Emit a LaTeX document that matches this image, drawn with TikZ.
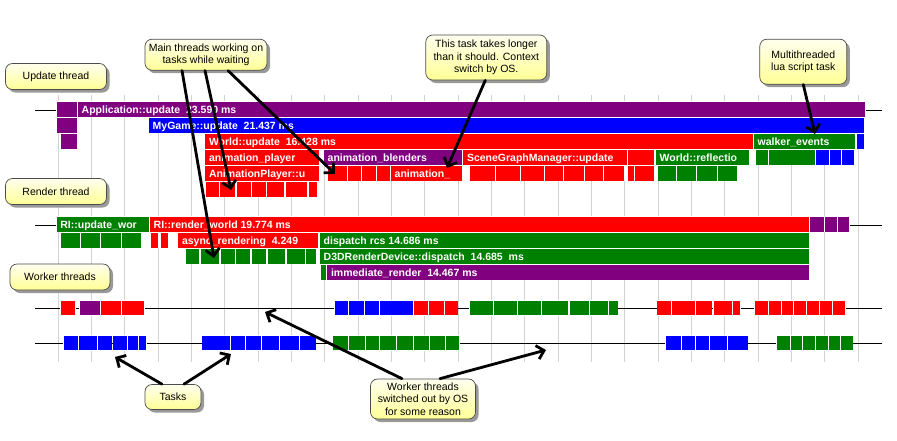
\documentclass[tikz,border=0pt]{standalone}
\usepackage{fontspec}
\setmainfont{Liberation Sans}
\usetikzlibrary{arrows.meta,shadows}
\definecolor{cpurple}{RGB}{128,0,128}
\definecolor{cblue}{RGB}{0,0,255}
\definecolor{cred}{RGB}{255,0,0}
\definecolor{cgreen}{RGB}{0,128,0}
\definecolor{cgrid}{RGB}{210,210,210}
\definecolor{cyltop}{RGB}{255,255,238}
\definecolor{cylbot}{RGB}{255,255,150}
\newcommand\blk[4]{\fill[white] (#2-0.7,#4-0.7) rectangle (#3+0.7,#4+15.4);\fill[#1] (#2,#4) rectangle (#3,#4+14.7);}
\newcommand\lbl[4]{\node[barlbl] (#1) at (#2+3.5,#3+11.2) {#4};}
\tikzset{
  barlbl/.style={anchor=base west, inner sep=0pt, text=white, font=\fontsize{10.5}{12}\selectfont\bfseries},
  callout/.style={draw=black!70, line width=0.7pt, rounded corners=7pt, top color=cyltop, bottom color=cylbot,
    align=center, inner sep=0pt, font=\fontsize{10.5}{12.7}\selectfont,
    drop shadow={shadow xshift=3pt, shadow yshift=-3pt, fill=black!40, opacity=1}},
  arr/.style={line width=2.8pt, line cap=round, -{Straight Barb[length=7pt,width=14pt]}},
  thread/.style={line width=0.9pt, black}
}
\begin{document}
\begin{tikzpicture}[x=1pt,y=-1pt]
\fill[white] (0,0) rectangle (897,440);
\useasboundingbox (0,0) rectangle (897,440);
% grid
\foreach \k in {0,...,24} \draw[cgrid, line width=1pt] ({58+33.333*\k},95) -- ({58+33.333*\k},362);
% thread lines
\draw[thread] (35,110) -- (882,110);
\draw[thread] (35,225) -- (882,225);
\draw[thread] (35,308.3) -- (882,308.3);
\draw[thread] (35,343.3) -- (882,343.3);
% ---------- Update thread ----------
\blk{cpurple}{56.7}{76.7}{102}\blk{cpurple}{78}{865}{102}
\blk{cpurple}{56.7}{76.7}{118}\blk{cblue}{149}{864}{118}
\blk{cpurple}{61}{76.7}{134}\blk{cred}{205.3}{753}{134}\blk{cgreen}{754}{855}{134}\blk{cblue}{857}{864}{134}
\blk{cred}{205.3}{319.3}{150}\blk{cpurple}{324}{461.7}{150}\blk{cred}{463.3}{627.3}{150}\blk{cred}{628.3}{654}{150}
\blk{cgreen}{656}{749}{150}\blk{cgreen}{756}{768.3}{150}\blk{cgreen}{769.3}{815}{150}
\blk{cblue}{816}{829}{150}\blk{cblue}{830}{841}{150}\blk{cblue}{842}{854}{150}
\blk{cred}{205.3}{319.3}{166}
\foreach \a/\b in {328/346.7,347.7/360.7,361.7/375.7,376.7/390,391/461.7,470/495,496/520,521/544,545/562.7,564/584,585/602.7,604/624,627.7/634,635/654}{\blk{cred}{\a}{\b}{166}}
\foreach \a/\b in {658.3/676,677.3/696,697.3/716.7,718.3/736.7}{\blk{cgreen}{\a}{\b}{166}}
\foreach \a/\b in {206/219.3,220.3/235.3,236.7/250.7,252/266,267.3/284.3,285.7/306.7,308.7/317.3}{\blk{cred}{\a}{\b}{182}}
\lbl{l1}{78}{102}{Application::update\ \ 23.590 ms}
\lbl{l2}{149}{118}{MyGame::update\ \ 21.437 ms}
\lbl{l3}{205.3}{134}{World::update\ \ 16.428 ms}
\lbl{l4}{754}{134}{walker\_events}
\lbl{l5}{205.3}{150}{animation\_player}
\lbl{l6}{324}{150}{animation\_blenders}
\lbl{l7}{463.3}{150}{SceneGraphManager::update}
\lbl{l8}{656}{150}{World::reflectio}
\lbl{l9}{205.3}{166}{AnimationPlayer::u}
\lbl{l10}{391}{166}{animation\_}
% ---------- Render thread ----------
\blk{cgreen}{56.7}{149}{217}\blk{cred}{150}{809}{217}
\foreach \a/\b in {810/824,825/837,838/849}{\blk{cpurple}{\a}{\b}{217}}
\foreach \a/\b in {61/80,81/100,101/120.7,122/141}{\blk{cgreen}{\a}{\b}{233}}
\blk{cred}{151}{158.3}{233}\blk{cred}{161}{167.7}{233}\blk{cred}{178.3}{318.3}{233}\blk{cgreen}{320}{809}{233}
\foreach \a/\b in {186/199.3,200.7/219.3,220.7/235,236/250,251.7/266,267.7/285,286.7/305,306/316}{\blk{cgreen}{\a}{\b}{249}}
\blk{cgreen}{320}{809}{249}
\blk{cgreen}{320.7}{326}{265}\blk{cpurple}{327.3}{809}{265}
\lbl{l11}{56.7}{217}{RI::update\_wor}
\lbl{l12}{150}{217}{RI::render\_world 19.774 ms}
\lbl{l13}{178.3}{233}{async\_rendering\ \ 4.249}
\lbl{l14}{320}{233}{dispatch rcs 14.686 ms}
\lbl{l15}{320}{249}{D3DRenderDevice::dispatch\ \ 14.685\ \ ms}
\lbl{l16}{327.3}{265}{immediate\_render\ \ 14.467 ms}
% ---------- Worker threads ----------
\blk{cred}{61}{75}{300.7}\blk{cpurple}{80}{100}{300.7}\blk{cred}{101}{121}{300.7}\blk{cred}{122}{144}{300.7}
\foreach \a/\b in {335/348.3,349.3/364,365/379,380/412.7}{\blk{cblue}{\a}{\b}{300.7}}
\foreach \a/\b in {414/427.7,429/444,445/457.7}{\blk{cred}{\a}{\b}{300.7}}
\foreach \a/\b in {470/492.7,494/517.3,518.3/540.7,542/568.3,570/589,590/607.7,609/617.7}{\blk{cgreen}{\a}{\b}{300.7}}
\foreach \a/\b in {657.3/670.7,672/695,696/711.7,714/731.7,733/740,755/767.7,769/780.7,782/792.7,794/805.7,807/819,820.3/831.7,833/845}{\blk{cred}{\a}{\b}{300.7}}
\foreach \a/\b in {64/78.3,79.3/96.7,97.7/111.7,113.3/127.3,128.3/137.7,139/146,202.3/230,231/245,246/261,262.3/279,280/299,300/315.7}{\blk{cblue}{\a}{\b}{335.7}}
\foreach \a/\b in {333.3/348.3,349.3/365,366/379,380/396,397.3/412.7,414/429,430/445,446/459}{\blk{cgreen}{\a}{\b}{335.7}}
\foreach \a/\b in {666/680.7,682/695,696/709,710/726.7,728/747.7}{\blk{cblue}{\a}{\b}{335.7}}
\foreach \a/\b in {777/790,791/801.7,803/815,816/827.7,829/840,841/852.7}{\blk{cgreen}{\a}{\b}{335.7}}
% ---------- callouts ----------
\node[callout, minimum width=101pt, minimum height=26pt] (upd) at (56,76.5) {Update thread};
\node[callout, minimum width=101pt, minimum height=26pt] (rnd) at (56,191.5) {Render thread};
\node[callout, minimum width=100pt, minimum height=26pt] (wrk) at (60,277) {Worker threads};
\node[callout, minimum width=122pt, minimum height=31pt] (mt) at (206,54.7) {Main threads working on\\tasks while waiting};
\node[callout, minimum width=121pt, minimum height=45pt] (ct) at (486.3,57.5) {This task takes longer\\than it should. Context\\switch by OS.};
\node[callout, minimum width=87pt, minimum height=45pt] (lua) at (803.3,61.7) {Multithreaded\\lua script task};
\node[callout, minimum width=56pt, minimum height=25pt] (tasks) at (173,397) {Tasks};
\node[callout, minimum width=105pt, minimum height=40pt] (sw) at (423,399) {Worker threads\\switched out by OS\\for some reason};
% ---------- arrows ----------
\coordinate (t1) at (214,258);
\coordinate (t2) at (231,190);
\coordinate (t3) at (335,174);
\coordinate (t4) at (447,168);
\coordinate (t5) at (815,134);
\coordinate (t6) at (115,357);
\coordinate (t7) at (231,354);
\coordinate (t8) at (265,312);
\coordinate (t9) at (546,350);
\draw[arr] ([xshift=-24pt]mt.south) -- (t1);
\draw[arr] ([xshift=-1pt]mt.south) -- (t2);
\draw[arr] ([xshift=22pt]mt.south) -- (t3);
\draw[arr] ([xshift=-1pt]ct.south) -- (t4);
\draw[arr] (lua.south) -- (t5);
\draw[arr] ([xshift=-11pt]tasks.north) -- (t6);
\draw[arr] ([xshift=11pt]tasks.north) -- (t7);
\draw[arr] ([xshift=-21pt]sw.north) -- (t8);
\draw[arr] ([xshift=17pt]sw.north) -- (t9);
\end{tikzpicture}
\end{document}
